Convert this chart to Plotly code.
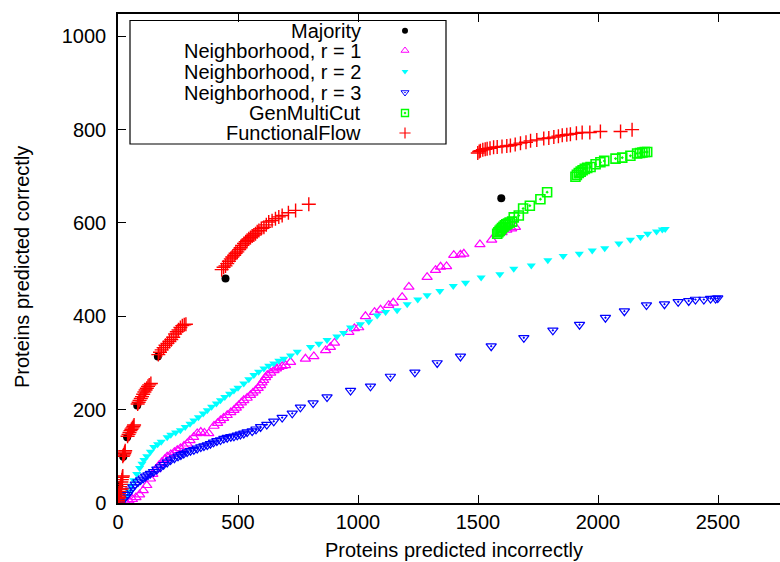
import plotly.graph_objects as go

# ---------------- data ----------------
maj_x = [0, 2, 5, 22, 38, 80, 166, 448, 1597]
maj_y = [5, 20, 38, 99, 141, 209, 314, 481, 653]

n1_x = [0, 15, 30, 45, 60, 75, 90, 105, 120, 135, 145, 158, 170, 182, 195, 205, 220, 235, 247,
        260, 275, 288, 300, 315, 330, 345, 360, 378, 400, 415, 427, 440, 455, 470, 483, 493, 503,
        514, 524, 538, 552, 562, 573, 584, 594, 600, 607, 615, 622, 636, 650, 660, 670, 684, 698,
        719, 781, 816, 865, 885, 902, 962, 985, 1003, 1031, 1069, 1094, 1128, 1147, 1184, 1212,
        1288, 1323, 1344, 1369, 1399, 1427, 1441, 1508, 1557, 1600, 1620, 1640, 1656]
n1_y = [0, 1, 3, 5, 8, 12, 18, 27, 38, 52, 62, 72, 80, 87, 94, 99, 104, 109, 113,
        117, 122, 127, 134, 141, 149, 152, 150, 149, 165, 171, 177, 182, 188, 194, 199, 204, 209,
        215, 220, 225, 231, 236, 241, 246, 252, 258, 263, 269, 274, 279, 284, 288, 291, 293, 295,
        302, 309, 314, 327, 334, 343, 366, 374, 376, 400, 409, 414, 424, 429, 441, 463,
        484, 499, 506, 507, 531, 532, 534, 554, 564, 580, 585, 588, 591]

n2_x = [0, 8, 15, 24, 35, 45, 55, 66, 78, 90, 100, 108, 120, 135, 149, 165, 180, 205, 220, 240,
        260, 280, 300, 316, 335, 355, 372, 390, 410, 427, 445, 465, 483, 500, 524, 545, 566, 586,
        608, 628, 649, 670, 691, 719, 747, 802, 837, 871, 912, 940, 969, 1010, 1045, 1080, 1115,
        1163, 1205, 1249, 1288, 1341, 1397, 1448, 1513, 1591, 1649, 1722, 1791, 1855, 1922, 1976,
        2028, 2087, 2135, 2177, 2207, 2244, 2268, 2280]
n2_y = [0, 1, 3, 6, 15, 25, 37, 49, 62, 75, 84, 92, 100, 110, 120, 126, 131, 141, 146, 151,
        156, 163, 170, 177, 184, 192, 199, 206, 213, 220, 227, 234, 241, 247, 256, 265, 274, 281,
        288, 294, 299, 305, 309, 316, 324, 334, 341, 349, 357, 364, 376, 383, 389, 402, 409,
        413, 426, 436, 445, 454, 465, 472, 483, 490, 502, 509, 520, 529, 534, 541,
        546, 556, 564, 570, 577, 582, 586, 587]

n3_x = [0, 5, 10, 20, 30, 40, 52, 62, 72, 83, 94, 105, 115, 125, 135, 148, 162, 177, 190, 205,
        219, 235, 250, 262, 274, 288, 302, 316, 330, 345, 358, 372, 385, 398, 412, 427, 441, 455,
        470, 483, 497, 510, 524, 538, 559, 575, 594, 620, 649, 684, 726, 760, 813, 871, 969, 1052,
        1135, 1237, 1330, 1427, 1555, 1691, 1812, 1923, 2031, 2110, 2202, 2277, 2334, 2378, 2406,
        2441, 2469, 2490, 2499]
n3_y = [0, 1, 2, 7, 12, 18, 27, 34, 40, 45, 49, 53, 57, 60, 63, 67, 72, 77, 82, 87,
        92, 96, 100, 103, 106, 109, 112, 114, 117, 120, 122, 124, 127, 130, 133, 135, 138, 140,
        142, 143, 145, 147, 149, 152, 154, 158, 163, 168, 175, 183, 192, 205, 214, 227, 241, 250,
        271, 280, 300, 314, 336, 354, 370, 382, 397, 411, 424, 426, 431, 433, 436,
        436, 438, 438, 439]

gmc_x = [1580, 1585, 1590, 1595, 1600, 1606, 1612, 1618, 1625, 1632, 1642, 1649, 1670, 1688, 1716,
         1760, 1788, 1906, 1912, 1920, 1928, 1936, 1945, 1955, 1969, 1990, 2010, 2026, 2073, 2101,
         2135, 2163, 2175, 2185, 2195, 2205]
gmc_y = [577, 580, 583, 586, 589, 592, 595, 597, 599, 601, 603, 612, 616, 631, 637,
         651, 666, 699, 703, 707, 710, 713, 716, 718, 720, 726, 730, 733, 738, 740,
         744, 749, 750, 751, 752, 752]

ff_x = [0, 1, 2, 3, 4, 6, 8, 10, 12, 14, 16, 18, 20, 15, 5,
        20, 23, 26, 28, 30,
        40, 44, 48, 52, 56, 60, 64, 67,
        82, 86, 90, 95, 100, 105, 110, 115, 120, 125, 130, 137,
        168, 175, 182, 190, 198, 206, 214, 222, 230, 238, 245, 252, 260, 268, 276, 283,
        432, 440, 448, 455, 462, 470, 476, 484, 490, 497, 505, 511, 517, 525, 532, 538, 545, 552,
        559, 566, 573, 580, 587, 597, 608, 618, 628, 642, 656, 670, 684, 710, 740, 795,
        1499, 1505, 1510, 1520, 1530, 1538, 1550, 1565, 1580, 1600, 1620, 1635, 1655, 1677, 1700,
        1719, 1745, 1774, 1795, 1816, 1835, 1851, 1870, 1885, 1910, 1934, 1966, 2010, 2094, 2142]
ff_y = [2, 6, 10, 15, 20, 25, 30, 35, 40, 45, 50, 55, 58, 30, 12,
        100, 103, 106, 109, 112,
        143, 147, 151, 155, 158, 161, 164, 167,
        212, 216, 220, 224, 228, 233, 238, 242, 246, 250, 253, 256,
        318, 323, 328, 333, 338, 342, 346, 350, 355, 362, 367, 371, 376, 380, 382, 383,
        500, 505, 508, 513, 518, 523, 527, 531, 535, 538, 543, 547, 552, 556, 560, 563, 566, 569,
        572, 574, 577, 581, 584, 588, 591, 596, 602, 605, 609, 613, 616, 622, 627, 640,
        750, 753, 755, 757, 758, 759, 760, 762, 763, 764, 765, 766, 768, 771, 773,
        776, 778, 781, 782, 784, 786, 788, 789, 790, 792, 794, 794, 796, 796, 800]

x_ticks = [0, 500, 1000, 1500, 2000, 2500]
y_ticks = [0, 200, 400, 600, 800, 1000]

names = ["Majority", "Neighborhood, r = 1", "Neighborhood, r = 2",
         "Neighborhood, r = 3", "GenMultiCut", "FunctionalFlow"]

# ---------------- styles ----------------
FONT = "Liberation Sans, Arial, Helvetica, sans-serif"
FS = 20
styles = [
    dict(symbol="circle", color="#000000", size=8, lw=0),
    dict(symbol="triangle-up-open", color="#ff00ff", size=9, lw=1.2),
    dict(symbol="triangle-down", color="#00ffff", size=8, lw=0),
    dict(symbol="triangle-down-open-dot", color="#0000ff", size=9, lw=1.2),
    dict(symbol="square-open-dot", color="#00ff00", size=9, lw=1.6),
    dict(symbol="cross-thin", color="#ff0000", size=10, lw=1.4),
]
series = [(maj_x, maj_y), (n1_x, n1_y), (n2_x, n2_y), (n3_x, n3_y),
          (gmc_x, gmc_y), (ff_x, ff_y)]

W, H = 780, 562
L, T, B = 118, 14, 59
PX_PER_X = 0.24
PX_PER_Y = 0.4667
x_max = (W - L) / PX_PER_X
y_max = (H - T - B) / PX_PER_Y


def px(xp):
    return (xp - L) / (W - L)


def py(yp):
    return (H - B - yp) / (H - T - B)


fig = go.Figure()
for (xs, ys), st, nm in zip(series, styles, names):
    fig.add_trace(go.Scatter(
        x=xs, y=ys, mode="markers", name=nm, showlegend=False,
        marker=dict(symbol=st["symbol"], color=st["color"], size=st["size"],
                    line=dict(color=st["color"], width=st["lw"])),
    ))

# ---- custom gnuplot-style legend (text right-aligned, sample on the right) ----
leg_rows = [30.7, 50.5, 71.5, 92.5, 113, 133]
leg_text_right = 363
leg_sym_x = 405
for st, nm, ry in zip(styles, names, leg_rows):
    fig.add_trace(go.Scatter(
        x=[leg_sym_x], y=[ry], xaxis="x2", yaxis="y2", mode="markers",
        showlegend=False, hoverinfo="skip",
        marker=dict(symbol=st["symbol"], color=st["color"], size=max(st["size"] - 2, 6),
                    line=dict(color=st["color"], width=max(st["lw"] - 0.2, 0) if st["lw"] else 0)),
    ))
    fig.add_annotation(x=px(leg_text_right), y=py(ry), xref="paper", yref="paper", text=nm,
                       showarrow=False, xanchor="right", yanchor="middle",
                       font=dict(family=FONT, size=FS, color="#000000"))

fig.add_shape(type="rect", xref="paper", yref="paper", x0=px(130), x1=px(446),
              y0=py(20.5), y1=py(144),
              line=dict(color="#000000", width=1.2), fillcolor="rgba(0,0,0,0)")

# axis titles
fig.add_annotation(x=px(454), y=py(550), xref="paper", yref="paper",
                   text="Proteins predicted incorrectly",
                   showarrow=False, xanchor="center", yanchor="middle",
                   font=dict(family=FONT, size=FS, color="#000000"))
fig.add_annotation(x=px(22), y=py(267), xref="paper", yref="paper",
                   text="Proteins predicted correctly",
                   showarrow=False, textangle=-90, xanchor="center", yanchor="middle",
                   font=dict(family=FONT, size=FS, color="#000000"))

axis_common = dict(showgrid=False, zeroline=False, showline=True, linecolor="#000000",
                   linewidth=1.5, ticks="inside", ticklen=8, tickwidth=1, tickcolor="#000000",
                   automargin=False,
                   tickfont=dict(family=FONT, size=FS, color="#000000"))

fig.update_layout(
    width=W, height=H,
    margin=dict(l=L, r=0, t=T, b=B, pad=0, autoexpand=False),
    paper_bgcolor="white", plot_bgcolor="white",
    showlegend=False,
    xaxis=dict(range=[0, x_max], tickvals=x_ticks, mirror="ticks",
               ticklabelstandoff=0, **axis_common),
    yaxis=dict(range=[0, y_max], tickvals=y_ticks, mirror=False,
               ticklabelstandoff=6, **axis_common),
    xaxis2=dict(overlaying="x", range=[L, W], visible=False, fixedrange=True,
                automargin=False),
    yaxis2=dict(overlaying="y", range=[H - B, T], visible=False, fixedrange=True,
                anchor="x2", automargin=False),
)

fig.write_html("out.html", config={"displayModeBar": False},
               post_script="document.body.style.margin='0';document.body.style.overflow='hidden';")
